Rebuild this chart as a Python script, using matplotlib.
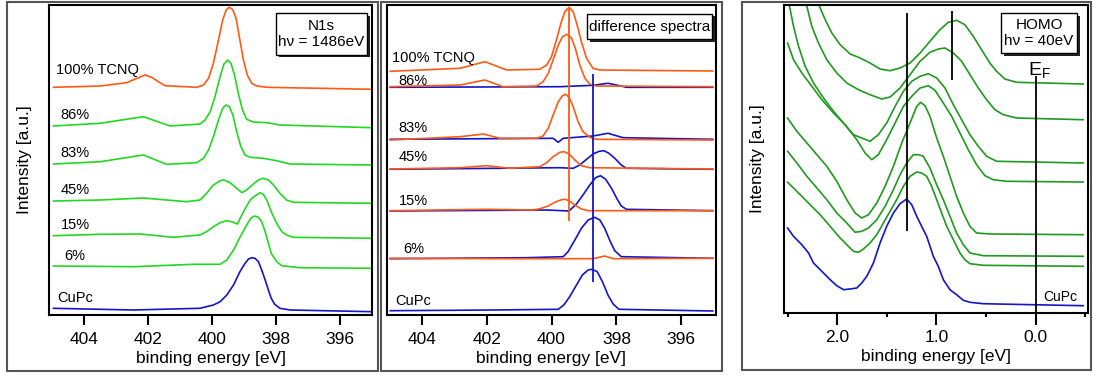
import matplotlib
matplotlib.use("Agg")
import matplotlib.pyplot as plt
from matplotlib.patches import Rectangle
from matplotlib.ticker import MultipleLocator

plt.rcParams['font.family'] = ['Liberation Sans', 'DejaVu Sans']

# ---- data: (binding energy [eV], intensity [a.u.]) ----
# N1s core level
n1s_cupc = [(404.96, 6.7), (402.46, 5.0), (400.38, 6.7), (399.96, 10.0), (399.75, 13.3),
            (399.54, 20.0), (399.33, 30.0), (399.13, 43.3), (398.97, 51.7), (398.86, 56.0),
            (398.76, 57.3), (398.66, 56.7), (398.55, 53.3), (398.45, 45.0), (398.34, 35.0),
            (398.24, 25.0), (398.15, 16.7), (398.05, 11.0), (397.88, 6.7), (397.56, 5.0),
            (395.0, 3.3)]
n1s_6 = [(404.96, 49.0), (402.46, 48.3), (400.58, 50.7), (399.75, 50.7), (399.54, 55.0),
         (399.33, 65.0), (399.13, 77.7), (398.92, 90.0), (398.79, 96.7), (398.69, 99.0),
         (398.55, 97.7), (398.45, 93.3), (398.34, 83.3), (398.24, 71.7), (398.15, 61.7),
         (397.98, 53.3), (397.82, 49.3), (397.25, 47.3), (395.0, 46.7)]
n1s_15 = [(404.96, 79.3), (403.5, 80.7), (402.25, 81.0), (401.21, 77.7), (400.38, 80.0),
          (400.17, 83.3), (399.96, 88.3), (399.75, 92.3), (399.54, 94.3), (399.39, 93.3),
          (399.21, 91.0), (399.02, 103.3), (398.81, 115.0), (398.66, 119.0), (398.50, 122.3),
          (398.40, 120.7), (398.29, 115.0), (398.15, 103.3), (397.98, 91.7), (397.82, 83.3),
          (397.67, 80.0), (397.46, 77.7), (395.0, 76.7)]
n1s_45 = [(404.96, 114.0), (403.5, 115.0), (402.15, 117.0), (400.79, 113.3), (400.38, 115.0),
          (400.17, 121.7), (399.96, 130.0), (399.75, 134.3), (399.63, 135.0), (399.44, 132.3),
          (399.23, 126.7), (399.07, 122.3), (398.92, 125.0), (398.71, 131.0), (398.55, 135.0),
          (398.40, 136.7), (398.24, 135.0), (398.08, 130.0), (397.88, 121.7), (397.67, 115.0),
          (397.46, 112.7), (395.0, 111.7)]
n1s_83 = [(404.96, 151.0), (403.5, 153.3), (402.15, 160.0), (401.42, 150.7), (400.48, 152.3),
          (400.27, 156.7), (400.11, 165.0), (399.96, 178.3), (399.80, 195.0), (399.67, 206.7),
          (399.56, 210.0), (399.46, 208.3), (399.35, 200.0), (399.23, 183.3), (399.10, 168.3),
          (398.97, 160.0), (398.81, 157.7), (398.40, 156.7), (397.98, 154.3), (397.56, 151.0),
          (395.0, 150.0)]
n1s_86 = [(404.96, 189.0), (403.5, 191.7), (402.15, 198.3), (401.31, 189.0), (400.38, 191.0),
          (400.22, 195.0), (400.06, 203.3), (399.91, 218.3), (399.75, 238.3), (399.63, 251.0),
          (399.51, 255.0), (399.41, 251.7), (399.30, 240.0), (399.18, 221.7), (399.05, 205.0),
          (398.92, 195.7), (398.71, 193.0), (398.29, 192.3), (397.88, 190.0), (395.0, 187.3)]
n1s_tcnq = [(404.96, 227.7), (403.5, 229.0), (402.67, 232.3), (402.35, 236.7), (402.09, 240.0),
            (401.89, 237.7), (401.68, 233.3), (401.47, 229.3), (400.48, 227.7), (400.27, 230.0),
            (400.11, 236.7), (399.96, 251.7), (399.80, 275.0), (399.67, 295.0), (399.56, 305.0),
            (399.47, 307.7), (399.36, 305.7), (399.25, 296.7), (399.15, 278.3), (399.02, 255.0),
            (398.90, 240.0), (398.76, 231.7), (398.60, 229.0), (398.29, 227.7), (395.0, 225.7)]
n1s_labels = ['CuPc', '6%', '15%', '45%', '83%', '86%', '100% TCNQ']
n1s_label_pos = [(404.83, 17.3), (404.62, 59.0), (404.73, 89.7), (404.73, 125.0),
                 (404.73, 161.7), (404.73, 200.0), (404.87, 245.0)]

# difference spectra (CuPc-like part in blue, TCNQ-like part in orange)
diff_cupc = [(404.97, 4.3), (401.79, 5.0), (399.79, 5.7), (399.62, 10.0), (399.44, 18.3),
             (399.23, 30.0), (399.05, 40.0), (398.87, 45.0), (398.75, 45.7), (398.59, 43.3),
             (398.43, 33.3), (398.26, 20.0), (398.10, 11.0), (397.92, 5.7), (395.03, 4.0)]
diff_6_cupc = [(404.97, 56.3), (400.77, 57.3), (399.64, 58.3), (399.49, 63.3), (399.28, 75.0),
               (399.08, 86.7), (398.87, 95.0), (398.67, 97.7), (398.51, 95.0), (398.36, 86.7),
               (398.21, 75.0), (398.05, 64.3), (397.85, 58.3), (395.03, 56.7)]
diff_6_tcnq = [(404.97, 56.7), (401.79, 56.3), (398.72, 56.3), (398.36, 59.0), (398.10, 56.3),
               (395.03, 56.7)]
diff_15_cupc = [(404.97, 104.0), (400.15, 105.0), (399.46, 104.0), (399.23, 111.0),
                (399.03, 120.0), (398.82, 130.0), (398.64, 137.3), (398.49, 139.3),
                (398.33, 135.7), (398.15, 126.7), (397.99, 116.7), (397.85, 109.0),
                (397.69, 105.7), (395.03, 104.3)]
diff_15_tcnq = [(404.97, 104.3), (402.0, 105.7), (400.56, 105.0), (400.31, 106.7),
                (400.10, 109.0), (399.90, 112.7), (399.69, 115.3), (399.56, 115.7),
                (399.42, 113.3), (399.25, 109.3), (399.08, 106.0), (398.87, 104.3),
                (395.03, 104.3)]
diff_45_cupc = [(404.97, 145.7), (399.74, 147.3), (399.33, 146.7), (399.13, 150.0),
                (398.92, 155.7), (398.72, 161.0), (398.53, 163.7), (398.38, 164.3),
                (398.23, 161.7), (398.05, 156.7), (397.85, 150.0), (397.69, 146.7),
                (395.03, 145.7)]
diff_45_tcnq = [(404.97, 146.0), (402.82, 147.3), (402.0, 149.3), (401.28, 146.7),
                (400.36, 148.3), (400.15, 152.3), (399.95, 158.3), (399.74, 162.7),
                (399.61, 163.3), (399.46, 161.0), (399.28, 155.0), (399.08, 149.3),
                (398.82, 147.3), (395.03, 146.0)]
diff_83_cupc = [(404.97, 175.7), (399.95, 176.7), (399.79, 172.7), (399.64, 176.7),
                (398.72, 179.0), (398.26, 181.7), (397.79, 177.3), (395.03, 175.7)]
diff_83_tcnq = [(404.97, 175.0), (402.82, 178.3), (402.1, 181.0), (401.59, 176.7),
                (400.46, 176.7), (400.26, 179.0), (400.10, 186.7), (399.95, 200.0),
                (399.79, 213.3), (399.66, 219.3), (399.57, 220.7), (399.46, 217.7),
                (399.33, 208.3), (399.18, 193.3), (399.03, 183.3), (398.82, 177.7),
                (398.62, 175.7), (395.03, 175.0)]
diff_86_cupc = [(404.97, 227.7), (399.74, 228.3), (398.72, 229.7), (398.26, 231.7),
                (398.0, 230.0), (397.69, 227.7), (395.03, 227.7)]
diff_86_tcnq = [(404.97, 228.3), (402.82, 230.0), (402.05, 235.0), (401.49, 228.3),
                (400.46, 229.0), (400.26, 233.3), (400.10, 241.7), (399.95, 255.0),
                (399.79, 270.0), (399.66, 278.3), (399.52, 280.7), (399.38, 276.7),
                (399.25, 265.0), (399.13, 250.0), (398.97, 236.7), (398.82, 231.0),
                (398.62, 229.0), (395.03, 228.3)]
diff_tcnq = [(404.97, 243.7), (402.82, 246.7), (402.05, 253.3), (401.38, 245.0),
             (400.36, 245.7), (400.15, 250.0), (400.0, 258.3), (399.85, 275.0),
             (399.71, 291.7), (399.59, 303.3), (399.46, 307.7), (399.33, 303.3),
             (399.21, 290.0), (399.08, 273.3), (398.92, 256.7), (398.72, 246.7),
             (398.51, 245.0), (395.03, 244.0)]
diff_labels = ['CuPc', '6%', '15%', '45%', '83%', '86%', '100% TCNQ']
diff_label_pos = [(404.82, 14.3), (404.58, 66.0), (404.69, 114.3), (404.72, 157.7),
                  (404.72, 186.7), (404.72, 234.3), (404.92, 256.7)]
diff_marker_tcnq = (399.46, 94.3, 308.0)   # energy, from, to
diff_marker_cupc = (398.72, 33.3, 241.0)

# HOMO valence band
homo_cupc = [(2.504, 85.0), (2.444, 76.7), (2.36, 68.3), (2.292, 60.0), (2.242, 50.0),
             (2.158, 41.7), (2.074, 33.3), (2.007, 27.3), (1.939, 23.3), (1.872, 24.0),
             (1.805, 25.0), (1.755, 30.0), (1.704, 36.7), (1.637, 50.0), (1.570, 70.0),
             (1.503, 86.7), (1.435, 100.0), (1.368, 109.3), (1.301, 114.0), (1.250, 108.3),
             (1.200, 96.7), (1.150, 86.7), (1.099, 76.7), (1.032, 56.7), (0.982, 46.7),
             (0.931, 33.3), (0.864, 23.3), (0.797, 18.3), (0.729, 12.7), (0.662, 10.7),
             (0.528, 9.3), (0.393, 9.0), (-0.481, 7.3)]
homo_g1 = [(2.504, 130.7), (2.444, 125.0), (2.376, 118.3), (2.276, 108.3), (2.175, 98.3),
           (2.074, 86.7), (1.973, 75.0), (1.906, 68.3), (1.839, 61.7), (1.788, 60.7),
           (1.738, 64.0), (1.671, 70.0), (1.603, 78.3), (1.536, 90.0), (1.469, 101.7),
           (1.402, 113.3), (1.334, 126.7), (1.267, 136.7), (1.200, 141.0), (1.150, 140.0),
           (1.099, 136.7), (1.049, 126.7), (0.998, 113.3), (0.948, 100.0), (0.897, 86.7),
           (0.830, 73.3), (0.763, 60.0), (0.713, 53.3), (0.662, 49.3), (0.528, 47.7),
           (-0.481, 46.7)]
homo_g2 = [(2.504, 161.7), (2.41, 150.0), (2.309, 136.7), (2.208, 125.0), (2.108, 113.3),
           (2.007, 100.0), (1.906, 90.0), (1.822, 80.7), (1.755, 81.7), (1.687, 85.0),
           (1.603, 93.3), (1.519, 106.7), (1.435, 123.3), (1.368, 138.3), (1.301, 150.0),
           (1.234, 158.3), (1.183, 158.3), (1.133, 156.7), (1.066, 145.0), (0.998, 128.3),
           (0.931, 113.3), (0.864, 96.7), (0.797, 80.0), (0.729, 68.3), (0.662, 60.0),
           (0.528, 57.3), (-0.481, 56.7)]
homo_g3 = [(2.504, 195.0), (2.41, 181.7), (2.309, 170.0), (2.208, 158.3), (2.108, 146.7),
           (2.007, 131.7), (1.906, 113.3), (1.822, 100.0), (1.755, 95.0), (1.687, 98.3),
           (1.603, 110.0), (1.519, 126.7), (1.435, 146.7), (1.351, 170.0), (1.267, 190.0),
           (1.200, 206.7), (1.160, 210.7), (1.116, 207.3), (1.066, 196.7), (0.998, 175.0),
           (0.931, 156.7), (0.864, 136.7), (0.797, 116.7), (0.729, 100.0), (0.662, 86.7),
           (0.595, 80.0), (0.461, 79.0), (-0.481, 78.3)]
homo_g4 = [(2.504, 270.0), (2.444, 253.3), (2.36, 240.0), (2.259, 226.7), (2.158, 213.3),
           (2.040, 200.0), (1.923, 188.3), (1.805, 173.3), (1.721, 160.0), (1.654, 153.3),
           (1.587, 158.3), (1.503, 173.3), (1.418, 190.0), (1.334, 206.7), (1.250, 216.7),
           (1.166, 225.0), (1.082, 227.3), (1.015, 222.7), (0.931, 210.0), (0.847, 196.7),
           (0.763, 180.0), (0.679, 163.3), (0.595, 148.3), (0.511, 137.3), (0.427, 133.3),
           (0.292, 131.7), (-0.481, 131.0)]
homo_g5 = [(2.484, 306.7), (2.444, 286.7), (2.393, 266.7), (2.326, 246.7), (2.242, 230.0),
           (2.141, 215.0), (2.040, 201.7), (1.939, 190.0), (1.839, 178.3), (1.755, 175.0),
           (1.671, 171.7), (1.587, 178.3), (1.503, 190.0), (1.418, 206.7), (1.334, 221.7),
           (1.250, 231.7), (1.166, 236.7), (1.082, 239.3), (0.998, 235.0), (0.914, 225.0),
           (0.830, 208.3), (0.746, 193.3), (0.662, 178.3), (0.578, 166.7), (0.494, 156.7),
           (0.393, 151.7), (-0.481, 150.0)]
homo_g6 = [(2.309, 306.7), (2.259, 286.7), (2.192, 270.0), (2.108, 253.3), (2.007, 240.0),
           (1.906, 230.0), (1.788, 223.3), (1.671, 218.3), (1.553, 214.0), (1.469, 216.0),
           (1.368, 225.0), (1.267, 238.3), (1.166, 251.7), (1.066, 260.7), (0.982, 264.0),
           (0.914, 265.0), (0.830, 260.0), (0.746, 251.7), (0.662, 238.3), (0.578, 225.0),
           (0.494, 213.3), (0.410, 203.3), (0.326, 198.3), (0.192, 195.0), (-0.481, 193.3)]
homo_g7 = [(2.182, 306.7), (2.124, 293.3), (2.057, 280.0), (1.973, 268.3), (1.872, 259.0),
           (1.771, 255.0), (1.671, 250.0), (1.570, 244.0), (1.469, 242.3), (1.368, 245.0),
           (1.267, 250.0), (1.166, 260.0), (1.066, 271.7), (0.965, 283.3), (0.881, 290.7),
           (0.797, 292.7), (0.713, 288.3), (0.629, 276.7), (0.545, 263.3), (0.461, 250.0),
           (0.393, 241.7), (0.309, 234.0), (0.192, 230.7), (-0.481, 229.0)]
homo_markers = [(1.294, 81.7, 300.0), (0.847, 232.7, 301.7), (0.0, 0.0, 237.0)]

BLUE = '#1414c8'
ORANGE = '#ff5a14'
GREEN = '#22d822'
DGREEN = '#1e9a1e'
LW = 1.2


def xy(pts):
    return [p[0] for p in pts], [p[1] for p in pts]


def boxed_text(ax, x0, y0, x1, y1, text, fs=11):
    # white box with a dark drop shadow, in axes coords
    dx = 2.5 / ax.bbox.width
    dy = 2.5 / ax.bbox.height
    ax.add_patch(Rectangle((x0 + dx, y0 - dy), x1 - x0, y1 - y0, transform=ax.transAxes,
                           facecolor='#222222', edgecolor='none', zorder=5))
    ax.add_patch(Rectangle((x0, y0), x1 - x0, y1 - y0, transform=ax.transAxes,
                           facecolor='white', edgecolor='black', lw=1.0, zorder=6))
    ax.text((x0 + x1) / 2, (y0 + y1) / 2, text, transform=ax.transAxes, ha='center',
            va='center', fontsize=fs, zorder=7, linespacing=1.25)


def style_axes(ax):
    for s in ax.spines.values():
        s.set_linewidth(1.5)
    ax.set_yticks([])
    ax.tick_params(axis='x', direction='out', length=7, width=1.5, pad=5, labelsize=12.5)
    ax.set_xlabel('binding energy [eV]', fontsize=12.5, labelpad=3)


fig = plt.figure(figsize=(10.93, 3.80), dpi=100)

# outer frames around the three panels
for (x0, y0, x1, y1) in [(7, 2, 378, 371), (381, 2, 722, 371), (742, 2, 1091, 370)]:
    fig.patches.append(Rectangle((x0 / 1093, 1 - y1 / 380), (x1 - x0) / 1093, (y1 - y0) / 380,
                                 transform=fig.transFigure, fill=False, edgecolor='#555555',
                                 lw=1.5))

# ---- panel 1: N1s ----
ax1 = fig.add_axes([49 / 1093, 1 - 315 / 380, 323 / 1093, 310 / 380])
for pts, col in [(n1s_cupc, BLUE), (n1s_6, GREEN), (n1s_15, GREEN), (n1s_45, GREEN),
                 (n1s_83, GREEN), (n1s_86, GREEN), (n1s_tcnq, ORANGE)]:
    ax1.plot(*xy(pts), color=col, lw=LW)
for lab, (e, i) in zip(n1s_labels, n1s_label_pos):
    ax1.text(e, i, lab, ha='left', va='center', fontsize=10.5)
ax1.set_xlim(405.1, 395.0)
ax1.set_ylim(0, 310)
ax1.set_xticks([404, 402, 400, 398, 396])
style_axes(ax1)
ax1.set_ylabel('Intensity [a.u.]', fontsize=12.5, labelpad=12)
boxed_text(ax1, 0.703, 0.839, 0.985, 0.974, 'N1s\nh\u03bd = 1486eV')

# ---- panel 2: difference spectra ----
ax2 = fig.add_axes([387 / 1093, 1 - 315 / 380, 329 / 1093, 310 / 380])
for pts in [diff_cupc, diff_6_cupc, diff_15_cupc, diff_45_cupc, diff_83_cupc, diff_86_cupc]:
    ax2.plot(*xy(pts), color=BLUE, lw=LW)
for pts in [diff_6_tcnq, diff_15_tcnq, diff_45_tcnq, diff_83_tcnq, diff_86_tcnq, diff_tcnq]:
    ax2.plot(*xy(pts), color=ORANGE, lw=LW)
ax2.vlines(diff_marker_tcnq[0], diff_marker_tcnq[1], diff_marker_tcnq[2], color=ORANGE, lw=1.3)
ax2.vlines(diff_marker_cupc[0], diff_marker_cupc[1], diff_marker_cupc[2], color=BLUE, lw=1.3)
for lab, (e, i) in zip(diff_labels, diff_label_pos):
    ax2.text(e, i, lab, ha='left', va='center', fontsize=10.5)
ax2.set_xlim(405.07, 394.93)
ax2.set_ylim(0, 310)
ax2.set_xticks([404, 402, 400, 398, 396])
style_axes(ax2)
boxed_text(ax2, 0.608, 0.890, 0.988, 0.971, 'difference spectra')

# ---- panel 3: HOMO ----
ax3 = fig.add_axes([784 / 1093, 1 - 313 / 380, 304 / 1093, 308 / 380])
ax3.plot(*xy(homo_cupc), color=BLUE, lw=LW)
for pts in [homo_g1, homo_g2, homo_g3, homo_g4, homo_g5, homo_g6, homo_g7]:
    ax3.plot(*xy(pts), color=DGREEN, lw=LW)
for e, lo, hi in homo_markers:
    ax3.vlines(e, lo, hi, color='black', lw=1.3)
ax3.text(0.074, 243, r'$\mathregular{E_F}$', ha='left', va='center', fontsize=14)
ax3.text(-0.077, 15.7, 'CuPc', ha='left', va='center', fontsize=10)
ax3.set_xlim(2.54, -0.53)
ax3.set_ylim(0, 308)
ax3.set_xticks([2.0, 1.0, 0.0])
ax3.set_xticklabels(['2.0', '1.0', '0.0'])
ax3.xaxis.set_minor_locator(MultipleLocator(0.5))
style_axes(ax3)
ax3.tick_params(axis='x', which='major', length=8.5, pad=3.5)
ax3.tick_params(axis='x', which='minor', direction='out', length=3, width=1.5)
ax3.set_ylabel('Intensity [a.u.]', fontsize=12.5, labelpad=14)
boxed_text(ax3, 0.714, 0.844, 0.964, 0.974, 'HOMO\nh\u03bd = 40eV')

fig.savefig('out.png', dpi=100)
